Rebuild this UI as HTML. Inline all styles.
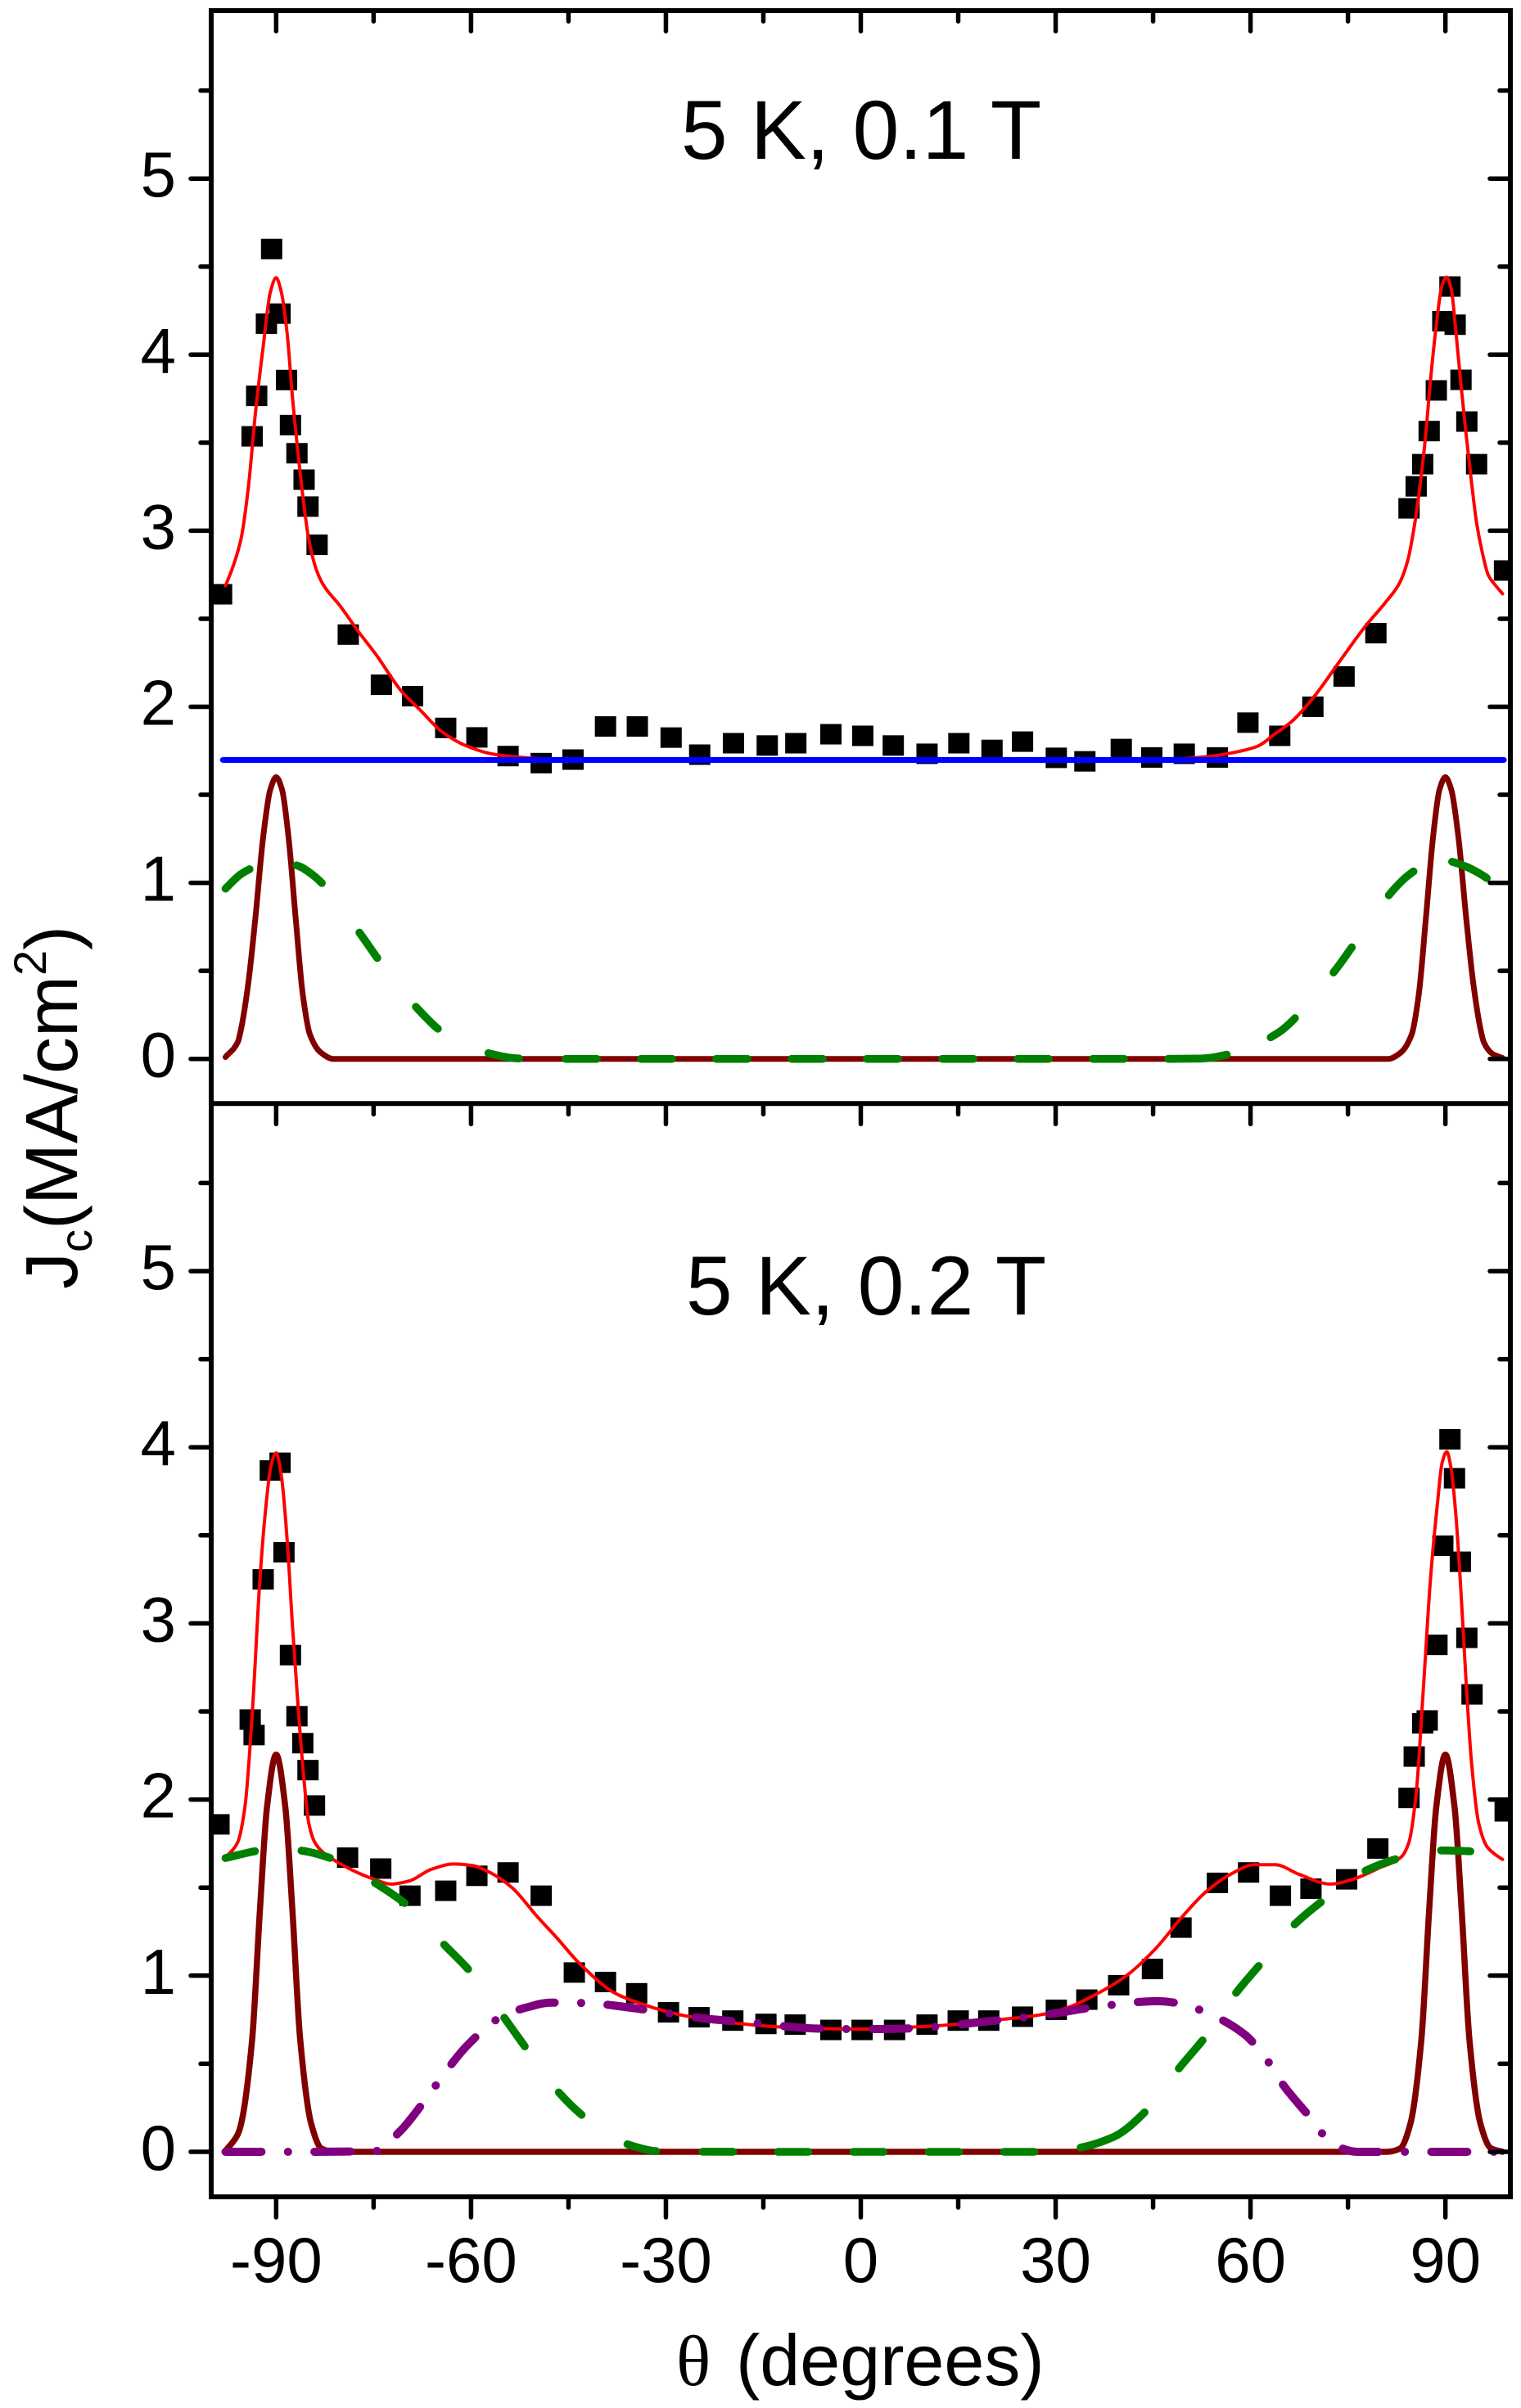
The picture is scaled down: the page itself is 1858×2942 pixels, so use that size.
<!DOCTYPE html>
<html lang="en">
<head>
<meta charset="utf-8">
<title>Jc versus angle at 5 K</title>
<style>
html,body{margin:0;padding:0;background:#fff}
svg{display:block}
text{font-family:"Liberation Sans",sans-serif;fill:#000}
</style>
</head>
<body>
<svg id="chart" xmlns="http://www.w3.org/2000/svg" width="1858" height="2942" viewBox="0 0 1858 2942">
<defs>
<clipPath id="clip-frame"><rect x="258" y="13" width="1587" height="2671"/></clipPath>
</defs>
<rect x="0" y="0" width="1858" height="2942" fill="#fff"/>
<g id="upper-panel" clip-path="url(#clip-frame)"></g>
<g id="lower-panel" clip-path="url(#clip-frame)"></g>
<g id="axes"></g>
<text x="1052" y="194" font-size="102" text-anchor="middle">5 K, 0.1 T</text>
<text x="1058" y="1606" font-size="102" text-anchor="middle">5 K, 0.2 T</text>
<text y="2914" font-size="88"><tspan x="826" style="font-family:'Liberation Serif',serif">θ</tspan><tspan x="899">(degrees)</tspan></text>
<text transform="translate(94,1575) rotate(-90)" font-size="90">J<tspan font-size="56" dy="18">c</tspan><tspan dy="-18">(MA/cm</tspan><tspan font-size="56" dy="-38">2</tspan><tspan dy="38">)</tspan></text>
</svg>
<script>
// ---- axis tick data ----
var xMajorTicks = [-90, -60, -30, 0, 30, 60, 90];
var xMinorTicks = [-75, -45, -15, 15, 45, 75];
var xTickLabels = ["-90", "-60", "-30", "0", "30", "60", "90"];
var yMajorTicks = [0, 1, 2, 3, 4, 5];
var yMinorTicks = [0.5, 1.5, 2.5, 3.5, 4.5, 5.5];
var yTickLabels = ["0", "1", "2", "3", "4", "5"];

// ---- upper panel (5 K, 0.1 T) ----
var upperDataTheta = [-98.4,-93.7,-93,-91.5,-90.7,-89.4,-88.4,-87.8,-86.8,-85.7,-85.1,-83.7,-78.9,-73.8,-69,-63.9,-59.1,-54.3,-49.2,-44.3,-39.3,-34.4,-29.2,-24.8,-19.6,-14.4,-10,-4.6,0.3,5,10.2,15.1,20.2,24.9,30.1,34.5,40.1,44.8,49.8,54.9,59.6,64.5,69.6,74.4,79.3,84.4,85.5,86.5,87.5,88.6,89.6,90.7,91.5,92.4,93.3,94.8,99.1];
var upperDataJc = [2.639,3.536,3.766,4.176,4.60,4.233,3.856,3.60,3.44,3.29,3.137,2.92,2.41,2.125,2.06,1.88,1.826,1.72,1.68,1.70,1.888,1.888,1.825,1.728,1.793,1.78,1.793,1.844,1.835,1.78,1.733,1.793,1.755,1.802,1.71,1.69,1.76,1.712,1.733,1.712,1.91,1.835,2.0,2.172,2.418,3.127,3.252,3.378,3.566,3.797,4.19,4.387,4.17,3.857,3.62,3.378,2.774];

var upperFitTheta = [-97.8,-96.5,-95.4,-94.3,-93.2,-92,-90.9,-90,-89.2,-88.3,-87.5,-86.6,-85.8,-85,-83.8,-82.7,-80.2,-77.4,-74.6,-70.7,-67.9,-64.5,-60.6,-56.6,-52.7,-48,-40,-20,0,20,40,48,53.1,57.4,61.1,63.8,66.4,69.6,73.8,77.6,80.8,82.9,84.2,85.3,86.1,86.9,87.7,88.5,89.5,90.2,90.9,91.6,92.4,93.2,94,94.8,95.6,96.6,97.7,98.8];
var upperFitJc = [2.687,2.812,2.955,3.24,3.666,4.045,4.354,4.437,4.354,4.117,3.761,3.43,3.168,2.955,2.777,2.69,2.575,2.43,2.295,2.088,1.984,1.859,1.776,1.731,1.714,1.703,1.70,1.70,1.70,1.70,1.70,1.703,1.716,1.74,1.776,1.847,1.918,2.049,2.262,2.454,2.594,2.70,2.83,3.045,3.258,3.52,3.852,4.136,4.396,4.44,4.373,4.136,3.828,3.543,3.282,3.045,2.89,2.748,2.69,2.642];

var upperBaseTheta = [-98.2, 99];
var upperBaseJc = [1.698, 1.698];

var upperPeakTheta = [-97.8,-95.9,-95.4,-94.3,-93.2,-92,-90.9,-90,-89.1,-88.1,-87,-85.9,-84.8,-83.1,-81.2,-60,-30,0,30,60,81.2,83.1,84.8,85.9,87,88.1,89.1,90,90.9,92,93.2,94.3,95.4,95.9,97.2,98.8];
var upperPeakJc = [0.01,0.096,0.17,0.427,0.80,1.26,1.53,1.60,1.53,1.26,0.80,0.366,0.138,0.035,0,0,0,0,0,0,0,0.035,0.138,0.366,0.80,1.26,1.53,1.60,1.53,1.26,0.80,0.427,0.17,0.096,0.03,0.005];

var upperBroadTheta = [-97.8,-95.4,-92.9,-90,-86.6,-84.2,-81.9,-77,-73.6,-68.4,-64.2,-57.4,-52.4,-45,-30,0,30,45,52.4,57.4,64.2,68.4,73.6,77,81.9,84.2,86.6,90,92.9,95.4,98.8];
var upperBroadJc = [0.967,1.05,1.096,1.125,1.096,1.04,0.956,0.708,0.531,0.292,0.147,0.033,0.002,0,0,0,0,0,0.002,0.033,0.147,0.292,0.531,0.708,0.956,1.04,1.096,1.125,1.096,1.05,0.96];

// ---- lower panel (5 K, 0.2 T) ----
var lowerDataTheta = [-98.8,-94,-93.4,-92,-90.9,-89.4,-88.8,-87.8,-86.8,-85.9,-85.1,-84.1,-79,-73.9,-69.4,-63.9,-59.1,-54.3,-49.2,-44.1,-39.3,-34.5,-29.6,-24.9,-19.7,-14.6,-10.1,-4.6,0.2,5.2,10.2,15,19.7,24.9,30.1,34.8,39.7,44.9,49.3,54.9,59.7,64.6,69.3,74.8,79.6,84.4,85.2,86.5,87.2,88.7,89.6,90.7,91.4,92.3,93.3,94.1,99.2];
var lowerDataJc = [1.859,2.454,2.366,3.25,3.868,3.912,3.404,2.82,2.473,2.32,2.167,1.966,1.67,1.608,1.454,1.482,1.567,1.586,1.454,1.018,0.964,0.90,0.792,0.764,0.745,0.726,0.722,0.692,0.692,0.692,0.722,0.745,0.745,0.767,0.806,0.864,0.946,1.038,1.273,1.527,1.586,1.454,1.494,1.547,1.722,2.009,2.244,2.433,2.449,2.878,3.441,4.045,3.824,3.35,2.918,2.597,1.933];

var lowerFitTheta = [-97.7,-95.9,-94.8,-93.7,-92.5,-91.7,-90.8,-90,-89.2,-88.3,-87.5,-86.6,-85.8,-85,-84.1,-82.7,-80.8,-78,-75.1,-72.3,-69.5,-66.1,-62.7,-59.9,-57.1,-53.7,-49.8,-46.8,-43.4,-37.8,-33.3,-27.7,-20.9,-13,-6.3,1,6.7,13.4,20.7,27.5,31.4,36.2,41,45.3,49.5,53.1,56.9,60.6,63.8,67.5,72.3,76,79.7,83.2,84.4,85.5,86.6,87.7,88.8,89.5,90.2,90.9,91.6,92.4,93.2,94,95.1,96.4,97.7,98.8];
var lowerFitJc = [1.674,1.759,1.96,2.477,3.25,3.618,3.894,3.968,3.838,3.47,2.992,2.514,2.147,1.87,1.76,1.697,1.65,1.594,1.55,1.52,1.538,1.604,1.634,1.626,1.586,1.50,1.335,1.215,1.073,0.90,0.834,0.777,0.738,0.71,0.70,0.697,0.706,0.72,0.748,0.777,0.813,0.894,1.003,1.15,1.335,1.475,1.575,1.63,1.63,1.575,1.52,1.55,1.61,1.674,1.759,2.035,2.625,3.25,3.69,3.913,3.974,3.875,3.62,3.176,2.66,2.22,1.87,1.733,1.687,1.66];

var lowerPeakTheta = [-97.8,-95.9,-95.4,-93.7,-92.5,-91.4,-90,-88.6,-87.5,-86.3,-84.6,-83,-81,-60,-30,0,30,60,81,83,84.6,86.3,87.5,88.6,90,91.4,92.5,93.7,95.4,97,98.8];
var lowerPeakJc = [0.005,0.10,0.158,0.637,1.372,1.96,2.255,1.96,1.372,0.637,0.158,0.018,0,0,0,0,0,0,0,0.018,0.158,0.637,1.372,1.96,2.255,1.96,1.372,0.637,0.158,0.02,0];

var lowerMidTheta = [-97.8,-85,-74.6,-71,-66.7,-63.8,-60.5,-55.4,-51.6,-47.7,-41.7,-37.9,-33.8,-27.9,-24.3,-20.4,-14.4,-10.6,-6.9,-0.4,3.1,7,13.4,16.8,20.7,26.9,30.6,34.4,45.8,49.1,52.9,59,62.2,64.9,69.6,72.5,76.5,85,98.8];
var lowerMidJc = [0,0,0.005,0.114,0.312,0.46,0.607,0.765,0.818,0.847,0.844,0.83,0.81,0.777,0.758,0.744,0.725,0.709,0.70,0.697,0.697,0.70,0.716,0.73,0.745,0.771,0.79,0.813,0.855,0.842,0.795,0.669,0.539,0.386,0.177,0.047,0,0,0];

var lowerBroadTheta = [-97.8,-92.5,-90,-86.4,-81,-75.1,-69.8,-64.5,-60.1,-55.1,-51.6,-46.7,-42.4,-36.1,-30.9,-15,0,15,28,33.2,38.9,44.2,48.9,53.1,57.6,61.8,66.7,71.5,77.6,83.2,89,94.8,98.8];
var lowerBroadJc = [1.668,1.711,1.72,1.711,1.659,1.534,1.399,1.19,1.022,0.772,0.592,0.346,0.193,0.045,0.003,0,0,0,0,0.02,0.084,0.243,0.47,0.655,0.894,1.078,1.288,1.436,1.594,1.67,1.711,1.704,1.67];

// ---- axis functions ----
function xAt(t) { return 1051.5 + 7.935 * t; }
function yUpper(v) { return 1293.7 - 215.1 * v; }
function yLower(v) { return 2629 - 215.2 * v; }

var NS = "http://www.w3.org/2000/svg";
function mk(tag, attrs, parent) {
  var el = document.createElementNS(NS, tag);
  for (var k in attrs) { el.setAttribute(k, attrs[k]); }
  parent.appendChild(el);
  return el;
}

// smooth path through the read points, without overshoot
function curvePath(thetas, values, yFn) {
  var pts = thetas.map(function (t, i) { return [xAt(t), yFn(values[i])]; });
  var n = pts.length, sec = [], tan = [], i;
  for (i = 0; i < n - 1; i++) { sec.push((pts[i + 1][1] - pts[i][1]) / (pts[i + 1][0] - pts[i][0])); }
  tan.push(sec[0]);
  for (i = 1; i < n - 1; i++) {
    if (sec[i - 1] * sec[i] <= 0) { tan.push(0); continue; }
    var h0 = pts[i][0] - pts[i - 1][0], h1 = pts[i + 1][0] - pts[i][0];
    var w1 = 2 * h1 + h0, w2 = h1 + 2 * h0;
    tan.push((w1 + w2) / (w1 / sec[i - 1] + w2 / sec[i]));
  }
  tan.push(sec[n - 2]);
  var d = "M" + pts[0][0].toFixed(2) + " " + pts[0][1].toFixed(2);
  for (i = 0; i < n - 1; i++) {
    var dx = pts[i + 1][0] - pts[i][0];
    d += "C" + (pts[i][0] + dx / 3).toFixed(2) + " " + (pts[i][1] + tan[i] * dx / 3).toFixed(2) + " " +
         (pts[i + 1][0] - dx / 3).toFixed(2) + " " + (pts[i + 1][1] - tan[i + 1] * dx / 3).toFixed(2) + " " +
         pts[i + 1][0].toFixed(2) + " " + pts[i + 1][1].toFixed(2);
  }
  return d;
}

function drawSquares(parent, thetas, values, yFn, name) {
  thetas.forEach(function (t, i) {
    var r = mk("rect", { x: xAt(t) - 13, y: yFn(values[i]) - 12.5, width: 26, height: 25, fill: "#000" }, parent);
    
    
  });
}

function drawCurve(parent, thetas, values, yFn, color, width, dash, name) {
  var attrs = { d: curvePath(thetas, values, yFn), fill: "none", stroke: color, "stroke-width": width, "stroke-linejoin": "round", "stroke-linecap": "round" };
  if (dash) { attrs["stroke-dasharray"] = dash; }
  var p = mk("path", attrs, parent);
  
  
}

// ---- series ----
var upper = document.getElementById("upper-panel");
var lower = document.getElementById("lower-panel");
var upperGreenDash = "38 60 38 76 38 76 38 69 38 57 38 54 38 54 38 54 38 54 38 54 38 54 38 54 38 54 72 58 38 73 38 78 42 50 47 300";
var lowerGreenDash = "37 57 36 63 44 70 42 74 43 70 39 67 36 57 37 55 37 55 37 55 37 55 37 57 91 68 45 71 43 67 42 67 39 57 36 300";
var purpleDash = "44 32.3 0.1 32.2";

drawSquares(upper, upperDataTheta, upperDataJc, yUpper, "upper-data-point");
drawCurve(upper, upperFitTheta, upperFitJc, yUpper, "#ff0000", 4, null, "upper-total-fit-line");
drawCurve(upper, upperBaseTheta, upperBaseJc, yUpper, "#0000ff", 7, null, "upper-baseline-component");
drawCurve(upper, upperPeakTheta, upperPeakJc, yUpper, "#800000", 7, null, "upper-narrow-peak-component");
drawCurve(upper, upperBroadTheta, upperBroadJc, yUpper, "#008000", 9.6, upperGreenDash, "upper-broad-peak-component");

drawSquares(lower, lowerDataTheta, lowerDataJc, yLower, "lower-data-point");
drawCurve(lower, lowerFitTheta, lowerFitJc, yLower, "#ff0000", 4, null, "lower-total-fit-line");
drawCurve(lower, lowerPeakTheta, lowerPeakJc, yLower, "#800000", 7.5, null, "lower-narrow-peak-component");
drawCurve(lower, lowerMidTheta, lowerMidJc, yLower, "#800080", 10, purpleDash, "lower-mid-angle-component");
drawCurve(lower, lowerBroadTheta, lowerBroadJc, yLower, "#008000", 9.6, lowerGreenDash, "lower-broad-peak-component");

// ---- axes ----
var axes = document.getElementById("axes");
var frame = mk("rect", { x: 258, y: 13, width: 1587, height: 2671, fill: "none", stroke: "#000", "stroke-width": 6 }, axes);


var divider = mk("line", { x1: 258, x2: 1845, y1: 1348.3, y2: 1348.3, stroke: "#000", "stroke-width": 6 }, axes);



function tick(x1, y1, x2, y2, name) {
  var l = mk("line", { x1: x1, y1: y1, x2: x2, y2: y2, stroke: "#000", "stroke-width": 5.5, "stroke-linecap": "round" }, axes);
  
  
}

[13, 1348.3, 2684].forEach(function (y0) {
  xMajorTicks.forEach(function (t) { tick(xAt(t), y0, xAt(t), y0 + 25, "x-major-tick"); });
  xMinorTicks.forEach(function (t) { tick(xAt(t), y0, xAt(t), y0 + 13, "x-minor-tick"); });
});

[yUpper, yLower].forEach(function (yFn) {
  yMajorTicks.forEach(function (v) {
    tick(258, yFn(v), 233, yFn(v), "y-major-tick-left");
    tick(1845, yFn(v), 1820, yFn(v), "y-major-tick-right");
  });
  yMinorTicks.forEach(function (v) {
    tick(258, yFn(v), 245, yFn(v), "y-minor-tick-left");
    tick(1845, yFn(v), 1832, yFn(v), "y-minor-tick-right");
  });
  yTickLabels.forEach(function (s, i) {
    var lab = mk("text", { x: 215, y: yFn(yMajorTicks[i]) + 22, "font-size": 78, "text-anchor": "end" }, axes);
    
    
    lab.textContent = s;
  });
});

xTickLabels.forEach(function (s, i) {
  var lab = mk("text", { x: xAt(xMajorTicks[i]), y: 2788, "font-size": 78, "text-anchor": "middle" }, axes);
  
  
  lab.textContent = s;
});
</script>
</body>
</html>
